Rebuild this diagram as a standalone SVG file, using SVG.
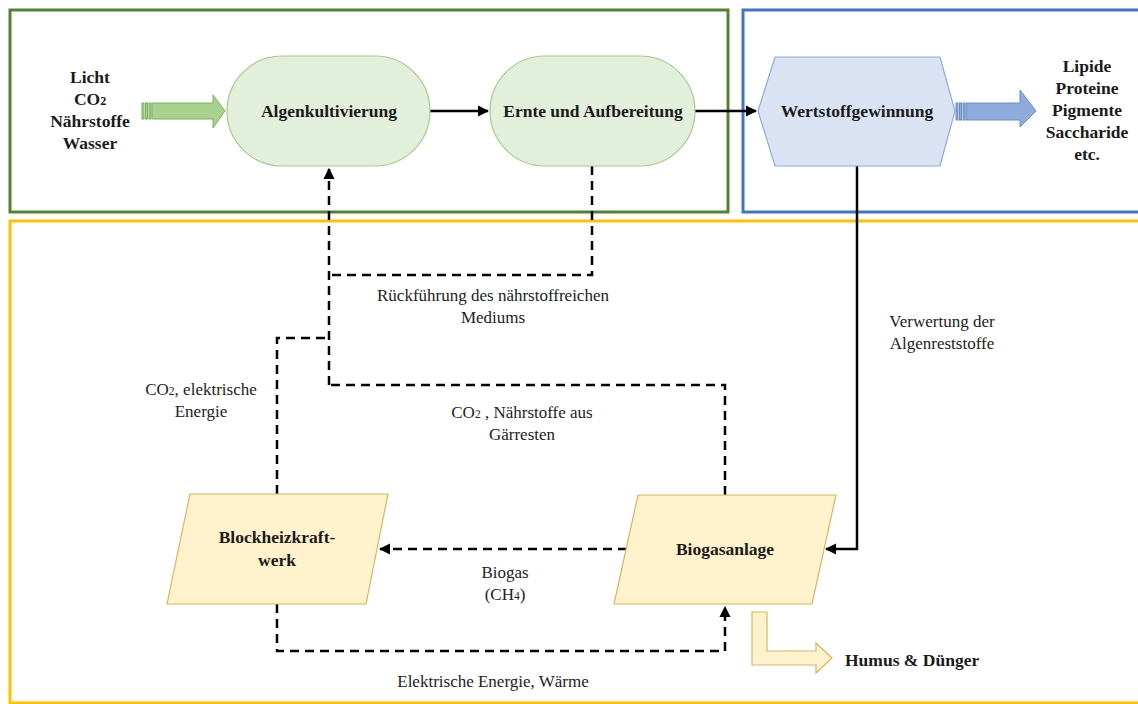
<svg xmlns="http://www.w3.org/2000/svg" width="1138" height="704" viewBox="0 0 1138 704">
<defs>
<style>
text{font-family:'Liberation Serif','DejaVu Serif',serif}
.b{font-weight:bold;font-size:17.5px;fill:#1a1a1a;text-anchor:middle}
.r{font-size:17px;fill:#222;text-anchor:middle}
.dash{fill:none;stroke:#000;stroke-width:2.5;stroke-dasharray:9 6}
.solid{fill:none;stroke:#000;stroke-width:2.5}
.green{fill:#e2efda;stroke:#a8c98f;stroke-width:1.2}
.blue{fill:#dae3f3;stroke:#8eaadb;stroke-width:1.2}
.yel{fill:#fff2cc;stroke:#d3b860;stroke-width:1.2}
</style>
<marker id="ah" viewBox="0 0 10 10" refX="9" refY="5" markerWidth="4.5" markerHeight="4.5" orient="auto" markerUnits="strokeWidth">
<path d="M0,0 L10,5 L0,10 Z" fill="#000"/>
</marker>
</defs>
<rect width="1138" height="704" fill="#fff"/>
<g id="frames">
<rect x="10" y="10" width="718" height="202" fill="none" stroke="#548235" stroke-width="3"/>
<rect x="743" y="10" width="400" height="202" fill="none" stroke="#4472c4" stroke-width="3"/>
<rect x="10" y="221" width="1135" height="482" fill="none" stroke="#ffc000" stroke-width="3"/>
</g>
<g id="connectors">
<path class="solid" d="M430,111 H488" marker-end="url(#ah)"/>
<path class="solid" d="M695,111 H756" marker-end="url(#ah)"/>
<path class="dash" d="M592,166 V275 H329"/>
<path class="dash" d="M277,494 V338 H329"/>
<path class="dash" d="M725,495 V385 H329"/>
<path class="dash" d="M329,385 V169" marker-end="url(#ah)"/>
<path class="dash" d="M627,549 H380" marker-end="url(#ah)"/>
<path class="solid" d="M857,166 V549 H826" marker-end="url(#ah)"/>
<path class="dash" d="M277,604 V651 H725 V607" marker-end="url(#ah)"/>
</g>
<g id="input">
<text class="b" x="90" y="83" font-family="Liberation Serif, DejaVu Serif, serif">Licht</text>
<text class="b" x="90" y="105" font-family="Liberation Serif, DejaVu Serif, serif">CO<tspan font-size="12">2</tspan></text>
<text class="b" x="90" y="127" font-family="Liberation Serif, DejaVu Serif, serif">Nährstoffe</text>
<text class="b" x="90" y="149" font-family="Liberation Serif, DejaVu Serif, serif">Wasser</text>
<g fill="#a9d18e" stroke="#7fae62" stroke-width="1">
<rect x="142" y="103" width="2" height="16"/>
<rect x="145.5" y="103" width="2" height="16"/>
<rect x="149" y="103" width="2" height="16"/>
<path d="M152,103 H213 V95 L225,111 L213,128 V119 H152 Z"/>
</g>
</g>
<g id="algenkultivierung">
<rect class="green" x="227" y="56" width="203" height="110" rx="55" ry="55"/>
<text class="b" x="329" y="117">Algenkultivierung</text>
</g>
<g id="ernte">
<rect class="green" x="490" y="56" width="205" height="110" rx="55" ry="55"/>
<text class="b" x="593" y="117">Ernte und Aufbereitung</text>
</g>
<g id="wertstoff">
<polygon class="blue" points="758,111 775,57 940,57 955,111 940,166 775,166"/>
<text class="b" x="857" y="117">Wertstoffgewinnung</text>
</g>
<g id="output">
<g fill="#8faadc" stroke="#6c8ebf" stroke-width="1">
<rect x="956" y="103" width="2" height="17"/>
<rect x="959.5" y="103" width="2" height="17"/>
<rect x="963" y="103" width="2" height="17"/>
<path d="M966,103 H1020 V90 L1036,111 L1020,127 V120 H966 Z"/>
</g>
<text class="b" x="1087" y="72">Lipide</text>
<text class="b" x="1087" y="94">Proteine</text>
<text class="b" x="1087" y="116">Pigmente</text>
<text class="b" x="1087" y="138">Saccharide</text>
<text class="b" x="1087" y="160">etc.</text>
</g>
<g id="bhkw">
<polygon class="yel" points="190,494 388,494 366,604 167,604"/>
<text class="b" x="277" y="543">Blockheizkraft-</text>
<text class="b" x="277" y="566">werk</text>
</g>
<g id="biogasanlage">
<polygon class="yel" points="638,495 836,495 812,604 614,604"/>
<text class="b" x="725" y="555">Biogasanlage</text>
</g>
<g id="humus">
<polygon class="yel" points="752,612 767,612 767,651 816,651 816,643 832,658 816,673 816,665 752,665"/>
<text class="b" x="845" y="666" style="text-anchor:start">Humus &amp; Dünger</text>
</g>
<g id="labels">
<text class="r" x="493" y="301">Rückführung des nährstoffreichen</text>
<text class="r" x="493" y="323">Mediums</text>
<text class="r" x="522" y="418">CO<tspan font-size="11.5">2</tspan> , Nährstoffe aus</text>
<text class="r" x="522" y="440">Gärresten</text>
<text class="r" x="201" y="395">CO<tspan font-size="11.5">2</tspan>, elektrische</text>
<text class="r" x="201" y="417">Energie</text>
<text class="r" x="942" y="327">Verwertung der</text>
<text class="r" x="942" y="349">Algenreststoffe</text>
<text class="r" x="505" y="578">Biogas</text>
<text class="r" x="505" y="600">(CH<tspan font-size="11.5">4</tspan>)</text>
<text class="r" x="493" y="687">Elektrische Energie, Wärme</text>
</g>
</svg>
